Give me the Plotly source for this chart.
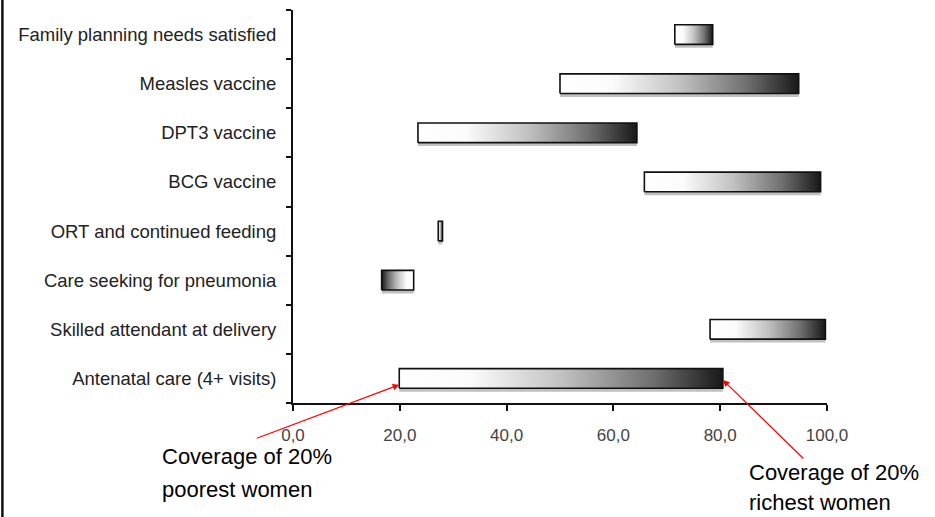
import plotly.graph_objects as go

# ---- data ----
categories = [
    "Antenatal care (4+ visits)",
    "Skilled attendant at delivery",
    "Care seeking for pneumonia",
    "ORT and continued feeding",
    "BCG vaccine",
    "DPT3 vaccine",
    "Measles vaccine",
    "Family planning needs satisfied",
]
poorest = [19.9, 78.1, 22.6, 27.2, 65.8, 23.4, 50.0, 71.5]
richest = [80.5, 99.7, 16.6, 28.0, 98.8, 64.4, 94.7, 78.6]
x_ticks = [0, 20, 40, 60, 80, 100]
x_tick_labels = ["0,0", "20,0", "40,0", "60,0", "80,0", "100,0"]

HALF = 0.2
grad = [[0, "#ffffff"], [0.22, "#fbfbfb"], [0.5, "#c2c2c2"], [0.78, "#707070"], [1, "#181818"]]
grad_rev = [[1 - p, c] for p, c in reversed(grad)]

fig = go.Figure()
for i, (p, r) in enumerate(zip(poorest, richest)):
    lo, hi = min(p, r), max(p, r)
    # shadow
    fig.add_trace(go.Scatter(
        x=[lo, hi, hi, lo, lo],
        y=[i - HALF - 0.07, i - HALF - 0.07, i + HALF - 0.07, i + HALF - 0.07, i - HALF - 0.07],
        fill="toself", fillcolor="rgba(140,140,140,0.55)", mode="lines",
        line=dict(width=0), hoverinfo="skip", showlegend=False))
    fig.add_trace(go.Scatter(
        x=[lo, hi, hi, lo, lo],
        y=[i - HALF, i - HALF, i + HALF, i + HALF, i - HALF],
        fill="toself", mode="lines",
        fillgradient=dict(type="horizontal", colorscale=grad if p <= r else grad_rev,
                          start=lo, stop=hi),
        line=dict(color="#111111", width=1.6), showlegend=False,
        name=categories[i]))

fig.update_layout(
    width=935, height=517,
    margin=dict(l=293, r=108, t=10, b=114),
    paper_bgcolor="white", plot_bgcolor="white",
    font=dict(family="Liberation Sans, Arial", color="#222222"),
    xaxis=dict(range=[0, 100], tickvals=x_ticks, ticktext=x_tick_labels,
               showgrid=False, zeroline=False, showline=True, linecolor="#111111", linewidth=2,
               ticks="outside", ticklen=6, tickwidth=2, tickcolor="#111111",
               tickfont=dict(size=17, color="#444444"), ticklabelstandoff=10),
    yaxis=dict(range=[-0.5, 7.5], tickvals=list(range(len(categories))), ticktext=categories,
               showgrid=False, zeroline=False, showline=True, linecolor="#111111", linewidth=2,
               ticks="", tickfont=dict(size=18.5, color="#222222"), ticklabelstandoff=11,
               minor=dict(tickvals=[k - 0.5 for k in range(len(categories) + 1)],
                          ticks="outside", ticklen=5, tickwidth=2, tickcolor="#111111")),
    shapes=[dict(type="line", xref="paper", yref="paper",
                 x0=-0.5442, x1=-0.5442, y0=-0.3, y1=1.03,
                 line=dict(color="#111111", width=2.5))],
)

ann_font = dict(family="Liberation Sans, Arial", size=22, color="#000000")
fig.add_annotation(xref="paper", yref="paper", x=-0.249, y=-0.135, xanchor="left", yanchor="middle",
                   text="Coverage of 20%", showarrow=False, font=ann_font)
fig.add_annotation(xref="paper", yref="paper", x=-0.249, y=-0.221, xanchor="left", yanchor="middle",
                   text="poorest women", showarrow=False, font=ann_font)
fig.add_annotation(xref="paper", yref="paper", x=0.850, y=-0.178, xanchor="left", yanchor="middle",
                   text="Coverage of 20%", showarrow=False, font=ann_font)
fig.add_annotation(xref="paper", yref="paper", x=0.850, y=-0.254, xanchor="left", yanchor="middle",
                   text="richest women", showarrow=False, font=ann_font)
# arrows
fig.add_annotation(x=poorest[0], y=-0.13, xref="x", yref="y", ax=-144, ay=54, text="",
                   showarrow=True, arrowhead=2, arrowsize=1.1, arrowwidth=1.2, arrowcolor="#ff0000")
fig.add_annotation(x=richest[0], y=-0.03, xref="x", yref="y", ax=82, ay=80, text="",
                   showarrow=True, arrowhead=2, arrowsize=1.1, arrowwidth=1.2, arrowcolor="#ff0000")

fig.write_html("out.html")
